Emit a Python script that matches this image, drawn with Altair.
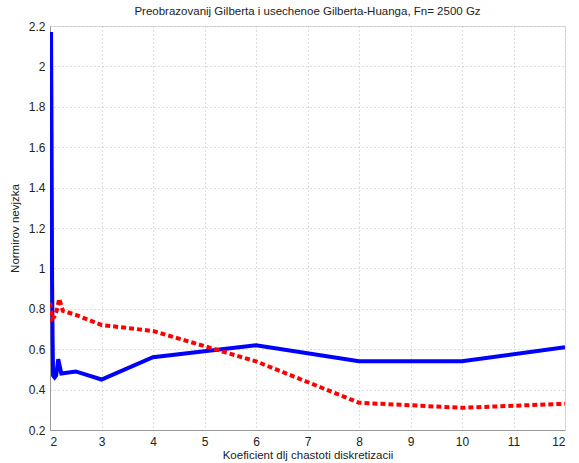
import altair as alt
import pandas as pd

blue_x = [2.02, 2.03, 2.035, 2.04, 2.05, 2.06, 2.09, 2.12, 2.16, 2.22, 2.5, 3, 4, 6, 8, 10, 12]
blue_y = [2.17, 1.66, 1.33, 0.95, 0.65, 0.47, 0.46, 0.47, 0.55, 0.48, 0.49, 0.45, 0.56, 0.62, 0.54, 0.54, 0.61]
red_x = [2.0, 2.03, 2.08, 2.13, 2.18, 2.25, 2.5, 3, 4, 6, 8, 10, 12]
red_y = [0.83, 0.75, 0.76, 0.79, 0.85, 0.79, 0.77, 0.72, 0.69, 0.54, 0.335, 0.31, 0.33]

df = pd.concat([
    pd.DataFrame({"x": blue_x, "y": blue_y, "s": "blue", "o": range(len(blue_x))}),
    pd.DataFrame({"x": red_x, "y": red_y, "s": "red", "o": range(len(red_x))}),
])

xs = alt.Scale(domain=[2, 12], nice=False, zero=False)
ys = alt.Scale(domain=[0.2, 2.2], nice=False, zero=False)

base = alt.Chart(df)

blue = base.transform_filter(alt.datum.s == "blue").mark_line(
    color="#0000FF", strokeWidth=4, clip=True
).encode(
    x=alt.X("x:Q", scale=xs,
            axis=alt.Axis(title="Koeficient dlj chastoti diskretizacii", values=list(range(2, 13)),
                          grid=True, gridDash=[1, 3], gridColor="#bbbbbb",
                          domainColor="#999999", tickColor="#999999", tickSize=0,
                          labelFontSize=12, labelColor="#222", labelPadding=6,
                          titleFontSize=11.5, titleFontWeight="normal", titleColor="#222",
                          titlePadding=2, labelFont="Liberation Sans", titleFont="Liberation Sans")),
    y=alt.Y("y:Q", scale=ys,
            axis=alt.Axis(title="Normirov nevjzka", values=[0.2, 0.4, 0.6, 0.8, 1, 1.2, 1.4, 1.6, 1.8, 2, 2.2],
                          format="~g", grid=True, gridDash=[1, 3], gridColor="#bbbbbb",
                          domainColor="#999999", tickColor="#999999", tickSize=0,
                          labelFontSize=12, labelColor="#222", labelPadding=5,
                          titleFontSize=11.5, titleFontWeight="normal", titleColor="#222",
                          titlePadding=8, labelFont="Liberation Sans", titleFont="Liberation Sans")),
    order="o:Q",
)

red = base.transform_filter(alt.datum.s == "red").mark_line(
    color="#FF0000", strokeWidth=4, strokeDash=[5, 3], clip=True
).encode(
    x=alt.X("x:Q", scale=xs),
    y=alt.Y("y:Q", scale=ys),
    order="o:Q",
)

chart = alt.layer(blue, red).properties(
    width=515,
    height=404,
    autosize=alt.AutoSizeParams(type="none"),
    padding={"left": 50, "top": 26, "right": 14, "bottom": 33},
    title=alt.Title("Preobrazovanij Gilberta i usechenoe Gilberta-Huanga, Fn= 2500 Gz",
                    fontSize=11.5, fontWeight="normal", font="Liberation Sans",
                    color="#222", offset=3, anchor="middle"),
).configure_view(stroke="#999999", strokeWidth=1.5).configure(background="white")

chart.save("out.html", embed_options={"renderer": "svg", "actions": False})
